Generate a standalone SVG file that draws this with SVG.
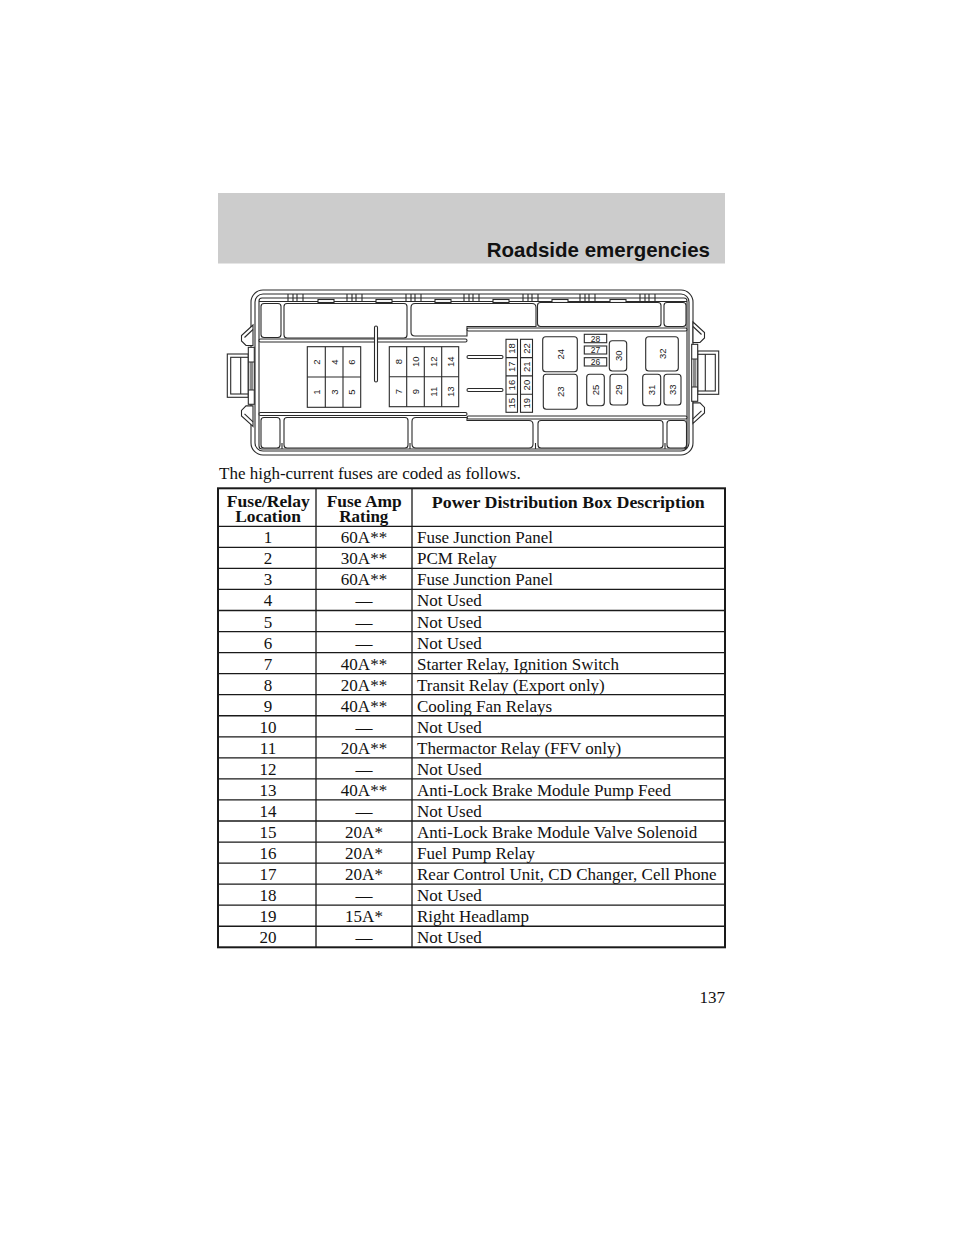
<svg xmlns="http://www.w3.org/2000/svg" width="960" height="1242" viewBox="0 0 960 1242">
<style>
.ln{fill:none;stroke:#2a2a2a;stroke-width:1.1}
.bx{fill:#fff;stroke:#2a2a2a;stroke-width:1.1}
.lb{font-family:"Liberation Sans",Arial,sans-serif;font-size:9.5px;fill:#1a1a1a;text-anchor:middle;dominant-baseline:central}
.sm{font-size:8.5px}
.tb{font-family:"Liberation Serif","Times New Roman",serif;font-size:17px;fill:#111}
.th{font-family:"Liberation Serif","Times New Roman",serif;font-size:16px;font-weight:bold;fill:#111;text-anchor:middle}
.c{text-anchor:middle}
.tl{fill:none;stroke:#1a1a1a;stroke-width:1.3}
</style>
<rect x="0" y="0" width="960" height="1242" fill="#ffffff"/>

<g id="header">
<rect x="218" y="193" width="507" height="70.5" fill="#cccccc"/>
<text x="710" y="256.7" font-family="'Liberation Sans',Arial,sans-serif" font-weight="bold" font-size="20.5" text-anchor="end" fill="#111">Roadside emergencies</text>
</g>

<g id="fusebox">
<g id="shell">
<rect class="ln" x="251" y="290" width="442" height="165" rx="12"/>
<rect class="ln" x="255" y="294" width="434" height="157" rx="8"/>
<rect class="ln" x="259" y="298" width="428" height="151" rx="3"/>
<line class="ln" x1="259" y1="301.5" x2="687" y2="301.5"/>
<g class="ln">
<path d="M288,294V301.5M293,294V301.5M297,294V301.5M303,294V301.5"/>
<path d="M347,294V301.5M352,294V301.5M356,294V301.5M362,294V301.5"/>
<path d="M406,294V301.5M411,294V301.5M415,294V301.5M421,294V301.5"/>
<path d="M464,294V301.5M469,294V301.5M473,294V301.5M479,294V301.5"/>
<path d="M523,294V301.5M528,294V301.5M532,294V301.5M538,294V301.5"/>
<path d="M580,294V301.5M585,294V301.5M589,294V301.5M595,294V301.5"/>
<path d="M640,294V301.5M645,294V301.5M649,294V301.5M655,294V301.5"/>
</g>
<rect class="bx" x="318" y="299.5" width="16" height="3"/>
<rect class="bx" x="376" y="299.5" width="16" height="3"/>
<rect class="bx" x="435" y="299.5" width="16" height="3"/>
<rect class="bx" x="493" y="299.5" width="16" height="3"/>
<rect class="bx" x="552" y="299.5" width="16" height="3"/>
<rect class="bx" x="610" y="299.5" width="16" height="3"/>
</g>

<g id="compartments">
<rect class="bx" x="261" y="303.5" width="20" height="34" rx="3"/>
<rect class="bx" x="284" y="303.5" width="123" height="34.5" rx="3"/>
<path class="bx" d="M415,303.5H532Q536,303.5 536,307.5V326.5H467V336H415Q411,336 411,332V307.5Q411,303.5 415,303.5Z"/>
<rect class="bx" x="537.5" y="302.5" width="123.5" height="24" rx="3"/>
<rect class="bx" x="664" y="302.5" width="22" height="24" rx="3"/>
<rect class="bx" x="259" y="339" width="208" height="3" rx="1.5"/>
<rect class="bx" x="467" y="328" width="220" height="3" rx="1.5"/>
<rect class="bx" x="259" y="412.5" width="208" height="3" rx="1.5"/>
<rect class="bx" x="467" y="416" width="220" height="3" rx="1.5"/>
<rect class="bx" x="261" y="417.5" width="19" height="30.5" rx="3"/>
<rect class="bx" x="284" y="417.5" width="124" height="30.5" rx="3"/>
<path class="bx" d="M416,417.5H467V420.5H529Q533,420.5 533,424.5V444Q533,448 529,448H416Q412,448 412,444V421.5Q412,417.5 416,417.5Z"/>
<rect class="bx" x="538" y="420.5" width="125" height="27.5" rx="3"/>
<rect class="bx" x="667" y="420.5" width="19.5" height="27.5" rx="3"/>
<path class="ln" d="M282,443V449M410,443V449M535.5,443V449M665,443V449"/>
<rect class="bx" x="374.5" y="326" width="3" height="56" rx="1.5"/>
<rect class="bx" x="467" y="355.5" width="36" height="3" rx="1.5"/>
<rect class="bx" x="467" y="388.5" width="36" height="3" rx="1.5"/>
</g>

<g id="fuses-1-6">
<rect class="bx" x="307.3" y="346.7" width="53.4" height="60.6"/>
<path class="ln" d="M325.3,346.7V407.3M343,346.7V407.3M307.3,377H360.7"/>
<text class="lb" transform="translate(316.3,362) rotate(-90)">2</text>
<text class="lb" transform="translate(334.2,362) rotate(-90)">4</text>
<text class="lb" transform="translate(351.9,362) rotate(-90)">6</text>
<text class="lb" transform="translate(316.3,392.2) rotate(-90)">1</text>
<text class="lb" transform="translate(334.2,392.2) rotate(-90)">3</text>
<text class="lb" transform="translate(351.9,392.2) rotate(-90)">5</text>
</g>

<g id="fuses-7-14">
<rect class="bx" x="389.3" y="346.7" width="69.4" height="60"/>
<path class="ln" d="M406.7,346.7V406.7M424.3,346.7V406.7M441.7,346.7V406.7M389.3,376.7H458.7"/>
<text class="lb" transform="translate(398,361.7) rotate(-90)">8</text>
<text class="lb" transform="translate(415.5,361.7) rotate(-90)">10</text>
<text class="lb" transform="translate(433,361.7) rotate(-90)">12</text>
<text class="lb" transform="translate(450.2,361.7) rotate(-90)">14</text>
<text class="lb" transform="translate(398,391.7) rotate(-90)">7</text>
<text class="lb" transform="translate(415.5,391.7) rotate(-90)">9</text>
<text class="lb" transform="translate(433,391.7) rotate(-90)">11</text>
<text class="lb" transform="translate(450.2,391.7) rotate(-90)">13</text>
</g>

<g id="fuses-15-22">
<rect class="bx" x="506" y="339.3" width="11.5" height="73"/>
<rect class="bx" x="520.5" y="339.3" width="12" height="73"/>
<path class="ln" d="M506,357.6H517.5M506,375.9H517.5M506,394.2H517.5M520.5,357.6H532.5M520.5,375.9H532.5M520.5,394.2H532.5"/>
<text class="lb" transform="translate(511.8,348.5) rotate(-90)">18</text>
<text class="lb" transform="translate(511.8,366.8) rotate(-90)">17</text>
<text class="lb" transform="translate(511.8,385.1) rotate(-90)">16</text>
<text class="lb" transform="translate(511.8,403.3) rotate(-90)">15</text>
<text class="lb" transform="translate(526.5,348.5) rotate(-90)">22</text>
<text class="lb" transform="translate(526.5,366.8) rotate(-90)">21</text>
<text class="lb" transform="translate(526.5,385.1) rotate(-90)">20</text>
<text class="lb" transform="translate(526.5,403.3) rotate(-90)">19</text>
</g>

<g id="relays">
<rect class="bx" x="542.7" y="336.7" width="34.6" height="35" rx="3"/>
<text class="lb" transform="translate(560,354.2) rotate(-90)">24</text>
<rect class="bx" x="543.3" y="374.3" width="34" height="35" rx="3"/>
<text class="lb" transform="translate(560.3,391.8) rotate(-90)">23</text>
<rect class="bx" x="584.3" y="334.3" width="22.4" height="8.4"/>
<text class="lb sm" x="595.5" y="338.6">28</text>
<rect class="bx" x="584.3" y="346" width="22.4" height="8"/>
<text class="lb sm" x="595.5" y="350.1">27</text>
<rect class="bx" x="584.3" y="357.7" width="22.4" height="8.3"/>
<text class="lb sm" x="595.5" y="361.9">26</text>
<rect class="bx" x="609.3" y="340.7" width="17.4" height="30.3" rx="3"/>
<text class="lb" transform="translate(618,355.8) rotate(-90)">30</text>
<rect class="bx" x="586.7" y="374.3" width="17.6" height="31.4" rx="3"/>
<text class="lb" transform="translate(595.5,390) rotate(-90)">25</text>
<rect class="bx" x="610" y="374.3" width="17.7" height="30.7" rx="3"/>
<text class="lb" transform="translate(618.8,389.7) rotate(-90)">29</text>
<rect class="bx" x="645.7" y="336.7" width="32.6" height="34.3" rx="3"/>
<text class="lb" transform="translate(662,353.8) rotate(-90)">32</text>
<rect class="bx" x="642.7" y="374.3" width="18" height="31.4" rx="3"/>
<text class="lb" transform="translate(651.7,390) rotate(-90)">31</text>
<rect class="bx" x="664" y="374.3" width="17" height="30.7" rx="3"/>
<text class="lb" transform="translate(672.5,389.7) rotate(-90)">33</text>
</g>

<g id="connector-left">
<path class="bx" d="M253,325L241.5,335.5V341L246,345.5H253Z"/>
<path class="ln" d="M253,329.5L244.5,337.5"/>
<path class="bx" d="M253,426.4L241.5,415.9V410.4L246,405.9H253Z"/>
<path class="ln" d="M253,421.9L244.5,413.9"/>
<rect class="bx" x="227.3" y="354" width="21" height="43.3"/>
<rect class="bx" x="230.7" y="357.3" width="17.6" height="36.7"/>
<line class="ln" x1="240.7" y1="357.3" x2="240.7" y2="394"/>
<rect class="bx" x="248.3" y="347.3" width="6" height="57"/>
<rect x="249.6" y="362" width="3.4" height="28" fill="#8a8a8a"/>
<path class="ln" d="M248.3,362H254.3M248.3,390H254.3"/>
</g>
<g id="connector-right" transform="matrix(-1,0,0,1,946,-3)">
<path class="bx" d="M253,325L241.5,335.5V341L246,345.5H253Z"/>
<path class="ln" d="M253,329.5L244.5,337.5"/>
<path class="bx" d="M253,426.4L241.5,415.9V410.4L246,405.9H253Z"/>
<path class="ln" d="M253,421.9L244.5,413.9"/>
<rect class="bx" x="227.3" y="354" width="21" height="43.3"/>
<rect class="bx" x="230.7" y="357.3" width="17.6" height="36.7"/>
<line class="ln" x1="240.7" y1="357.3" x2="240.7" y2="394"/>
<rect class="bx" x="248.3" y="347.3" width="6" height="57"/>
<rect x="249.6" y="362" width="3.4" height="28" fill="#8a8a8a"/>
<path class="ln" d="M248.3,362H254.3M248.3,390H254.3"/>
</g>
</g>

<text class="tb" x="219" y="479">The high-current fuses are coded as follows.</text>

<g id="table">
<rect x="218" y="488.3" width="507" height="459" fill="none" stroke="#1a1a1a" stroke-width="2"/>
<path class="tl" d="M316,488.3V947.3M412,488.3V947.3"/>
<path class="tl" d="M218,526.3H725M218,547.35H725M218,568.4H725M218,589.45H725M218,610.5H725M218,631.55H725M218,652.6H725M218,673.65H725M218,694.7H725M218,715.75H725M218,736.8H725M218,757.85H725M218,778.9H725M218,799.95H725M218,821H725M218,842.05H725M218,863.1H725M218,884.15H725M218,905.2H725M218,926.25H725"/>
<text class="th" x="268.3" y="507.3" textLength="83" lengthAdjust="spacingAndGlyphs">Fuse/Relay</text>
<text class="th" x="268" y="522" textLength="65.7" lengthAdjust="spacingAndGlyphs">Location</text>
<text class="th" x="364.2" y="507.3" textLength="75" lengthAdjust="spacingAndGlyphs">Fuse Amp</text>
<text class="th" x="363.8" y="522" textLength="49" lengthAdjust="spacingAndGlyphs">Rating</text>
<text class="th" x="568.3" y="507.8" textLength="273" lengthAdjust="spacingAndGlyphs">Power Distribution Box Description</text>
<g class="tb">
<text class="c" x="268" y="543.3">1</text><text class="c" x="364" y="543.3">60A**</text><text x="417" y="543.3">Fuse Junction Panel</text>
<text class="c" x="268" y="564.35">2</text><text class="c" x="364" y="564.35">30A**</text><text x="417" y="564.35">PCM Relay</text>
<text class="c" x="268" y="585.4">3</text><text class="c" x="364" y="585.4">60A**</text><text x="417" y="585.4">Fuse Junction Panel</text>
<text class="c" x="268" y="606.45">4</text><text class="c" x="364" y="606.45">—</text><text x="417" y="606.45">Not Used</text>
<text class="c" x="268" y="627.5">5</text><text class="c" x="364" y="627.5">—</text><text x="417" y="627.5">Not Used</text>
<text class="c" x="268" y="648.55">6</text><text class="c" x="364" y="648.55">—</text><text x="417" y="648.55">Not Used</text>
<text class="c" x="268" y="669.6">7</text><text class="c" x="364" y="669.6">40A**</text><text x="417" y="669.6">Starter Relay, Ignition Switch</text>
<text class="c" x="268" y="690.65">8</text><text class="c" x="364" y="690.65">20A**</text><text x="417" y="690.65">Transit Relay (Export only)</text>
<text class="c" x="268" y="711.7">9</text><text class="c" x="364" y="711.7">40A**</text><text x="417" y="711.7">Cooling Fan Relays</text>
<text class="c" x="268" y="732.75">10</text><text class="c" x="364" y="732.75">—</text><text x="417" y="732.75">Not Used</text>
<text class="c" x="268" y="753.8">11</text><text class="c" x="364" y="753.8">20A**</text><text x="417" y="753.8">Thermactor Relay (FFV only)</text>
<text class="c" x="268" y="774.85">12</text><text class="c" x="364" y="774.85">—</text><text x="417" y="774.85">Not Used</text>
<text class="c" x="268" y="795.9">13</text><text class="c" x="364" y="795.9">40A**</text><text x="417" y="795.9">Anti-Lock Brake Module Pump Feed</text>
<text class="c" x="268" y="816.95">14</text><text class="c" x="364" y="816.95">—</text><text x="417" y="816.95">Not Used</text>
<text class="c" x="268" y="838">15</text><text class="c" x="364" y="838">20A*</text><text x="417" y="838">Anti-Lock Brake Module Valve Solenoid</text>
<text class="c" x="268" y="859.05">16</text><text class="c" x="364" y="859.05">20A*</text><text x="417" y="859.05">Fuel Pump Relay</text>
<text class="c" x="268" y="880.1">17</text><text class="c" x="364" y="880.1">20A*</text><text x="417" y="880.1">Rear Control Unit, CD Changer, Cell Phone</text>
<text class="c" x="268" y="901.15">18</text><text class="c" x="364" y="901.15">—</text><text x="417" y="901.15">Not Used</text>
<text class="c" x="268" y="922.2">19</text><text class="c" x="364" y="922.2">15A*</text><text x="417" y="922.2">Right Headlamp</text>
<text class="c" x="268" y="943.25">20</text><text class="c" x="364" y="943.25">—</text><text x="417" y="943.25">Not Used</text>
</g>
</g>

<text class="tb" x="725" y="1002.5" text-anchor="end">137</text>
</svg>
